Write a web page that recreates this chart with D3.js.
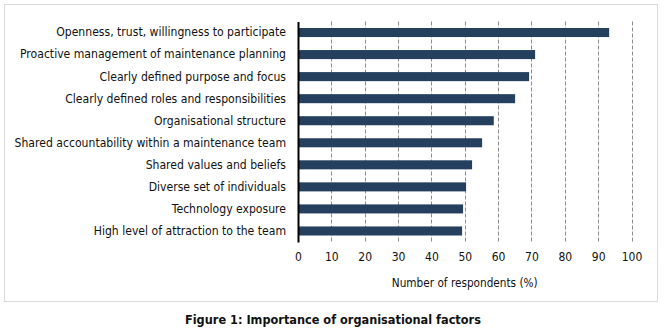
<!DOCTYPE html>
<html>
<head>
<meta charset="utf-8">
<script src="https://cdn.jsdelivr.net/npm/d3@7"></script>
<style>
  body { margin: 0; background: #fff; }
  svg text { font-family: "DejaVu Sans Condensed", "DejaVu Sans", sans-serif; fill: #111; }
</style>
</head>
<body>
<svg id="chart" width="666" height="332"></svg>
<script>
// factors, top to bottom
var factors = [
  "Openness, trust, willingness to participate",
  "Proactive management of maintenance planning",
  "Clearly defined purpose and focus",
  "Clearly defined roles and responsibilities",
  "Organisational structure",
  "Shared accountability within a maintenance team",
  "Shared values and beliefs",
  "Diverse set of individuals",
  "Technology exposure",
  "High level of attraction to the team"
];
var percent = [93.3, 71.1, 69.3, 65.1, 58.7, 55.2, 52.2, 50.4, 49.5, 49.2];
var ticks = [0, 10, 20, 30, 40, 50, 60, 70, 80, 90, 100];
var xTitle = "Number of respondents (%)";
var caption = "Figure 1: Importance of organisational factors";

var svg = d3.select("#chart");

// outer frame
svg.append("rect")
  .attr("x", 4.5).attr("y", 4.5)
  .attr("width", 653).attr("height", 297)
  .attr("fill", "none")
  .attr("stroke", "#d9d9d9");

var x = d3.scaleLinear().domain([0, 100]).range([298, 631.5]);
var y = d3.scaleBand().domain(factors).range([21.5, 242])
  .paddingInner(0.59).paddingOuter(0.295);

// dashed gridlines
svg.append("g").selectAll("line")
  .data(ticks.slice(1))
  .enter().append("line")
    .attr("x1", function(d) { return Math.round(x(d)) + 0.5; })
    .attr("x2", function(d) { return Math.round(x(d)) + 0.5; })
    .attr("y1", 21.5).attr("y2", 242)
    .attr("stroke", "#8c8c8c")
    .attr("stroke-dasharray", "4,2");

// bars
svg.append("g").selectAll("rect")
  .data(percent)
  .enter().append("rect")
    .attr("x", x(0))
    .attr("y", function(d, i) { return y(factors[i]); })
    .attr("width", function(d) { return x(d) - x(0); })
    .attr("height", y.bandwidth())
    .attr("fill", "#253f5f");

// y axis line + labels
var yAxis = d3.axisLeft(y).tickSize(0).tickPadding(12);
var gy = svg.append("g")
  .attr("transform", "translate(" + x(0) + ",0)")
  .call(yAxis);
gy.select(".domain").attr("stroke", "#000").attr("stroke-width", 2);
gy.selectAll("text").style("font-size", "12.1px");

// x tick labels (no axis line)
var xAxis = d3.axisBottom(x).tickValues(ticks).tickSize(0).tickPadding(10);
var gx = svg.append("g")
  .attr("transform", "translate(0,242)")
  .call(xAxis);
gx.select(".domain").remove();
gx.selectAll("text").style("font-size", "12px");

svg.append("text")
  .attr("x", (x(0) + x(100)) / 2)
  .attr("y", 287)
  .attr("text-anchor", "middle")
  .style("font-size", "11.7px")
  .text(xTitle);

svg.append("text")
  .attr("x", 185)
  .attr("y", 324)
  .style("font-size", "12.6px")
  .style("font-weight", "bold")
  .text(caption);
</script>
</body>
</html>
